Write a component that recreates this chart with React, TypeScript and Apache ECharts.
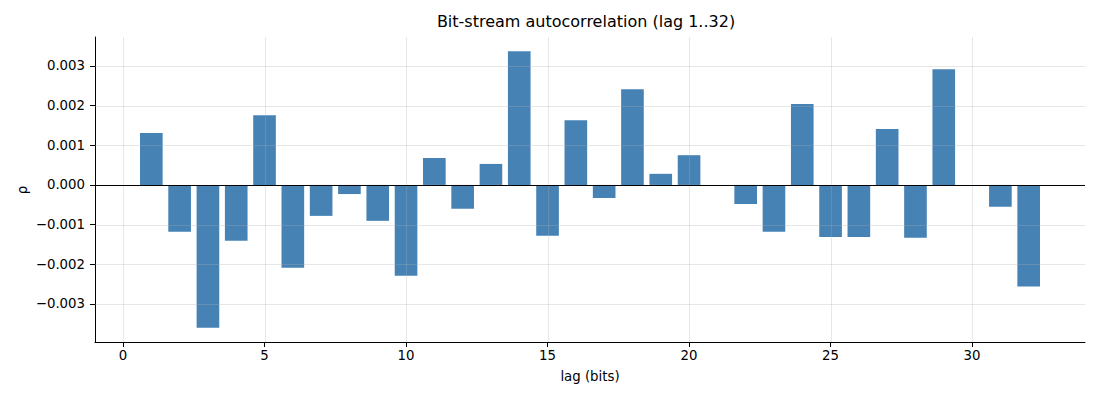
import React, { useEffect, useRef } from "react";
import * as echarts from "echarts";

const lags = [1,2,3,4,5,6,7,8,9,10,11,12,13,14,15,16,17,18,19,20,21,22,23,24,25,26,27,28,29,30,31,32];
const rho = [
  0.00131, -0.00118, -0.0036, -0.00141, 0.00176, -0.00209, -0.00078, -0.00023,
  -0.000905, -0.00229, 0.00068, -0.0006, 0.00053, 0.00337, -0.00128, 0.00163,
  -0.00033, 0.00241, 0.00028, 0.00075, 0.0, -0.00048, -0.00118, 0.00204,
  -0.00131, -0.00131, 0.00141, -0.00133, 0.00292, 0.0, -0.00055, -0.00256,
];
const xTicks = [0, 5, 10, 15, 20, 25, 30];
const yTicks = [-0.003, -0.002, -0.001, 0, 0.001, 0.002, 0.003];
const title = "Bit-stream autocorrelation (lag 1..32)";
const xName = "lag (bits)";
const yName = "ρ";

const FONT = "DejaVu Sans";

function fmtY(v: number): string {
  if (Math.abs(v) < 1e-12) return "0.000";
  const s = Math.abs(v).toFixed(3);
  return v < 0 ? "\u2212" + s : s;
}

export default function App() {
  const ref = useRef<HTMLDivElement>(null);
  useEffect(() => {
    if (!ref.current) return;
    const chart = echarts.init(ref.current, null, { renderer: "svg" });
    const gridColor = "rgba(176,176,176,0.3)";
    chart.setOption({
      animation: false,
      backgroundColor: "#ffffff",
      textStyle: { fontFamily: FONT },
      grid: { left: 95, right: 15, top: 37, bottom: 58 },
      xAxis: {
        type: "value",
        min: -0.99,
        max: 33.99,
        axisLine: { show: true, onZero: false, lineStyle: { color: "#000", width: 1 } },
        axisTick: { show: true, length: 5, lineStyle: { color: "#000", width: 1 }, customValues: xTicks },
        axisLabel: {
          customValues: xTicks,
          margin: 7,
          color: "#000",
          fontSize: 13.3,
          fontFamily: FONT,
          formatter: (v: number) => String(v),
        },
        splitLine: { show: false },
      },
      yAxis: {
        type: "value",
        min: -0.00396,
        max: 0.00373,
        axisLine: { show: true, onZero: false, lineStyle: { color: "#000", width: 1 } },
        axisTick: { show: true, length: 5, lineStyle: { color: "#000", width: 1 }, customValues: yTicks },
        axisLabel: {
          customValues: yTicks,
          margin: 10,
          color: "#000",
          fontSize: 13.3,
          fontFamily: FONT,
          formatter: (v: number) => fmtY(v),
        },
        splitLine: { show: false },
      },
      graphic: [
        {
          type: "text",
          x: 586,
          y: 13,
          style: {
            text: title,
            fill: "#000",
            font: `16px "${FONT}"`,
            textAlign: "center",
            textVerticalAlign: "top",
          },
        },
        {
          type: "text",
          x: 590,
          y: 370,
          style: {
            text: xName,
            fill: "#000",
            font: `13.3px "${FONT}"`,
            textAlign: "center",
            textVerticalAlign: "top",
          },
        },
        {
          type: "text",
          x: 22,
          y: 190,
          rotation: Math.PI / 2,
          style: {
            text: yName,
            fill: "#000",
            font: `13.3px "${FONT}"`,
            textAlign: "center",
            textVerticalAlign: "middle",
          },
        },
      ],
      series: [
        {
          type: "custom",
          z: 2,
          data: lags.map((l, i) => [l, rho[i]]),
          renderItem: (params: any, api: any) => {
            const lag = api.value(0);
            const val = api.value(1);
            const p0 = api.coord([lag - 0.4, 0]);
            const p1 = api.coord([lag + 0.4, val]);
            return {
              type: "rect",
              shape: {
                x: Math.min(p0[0], p1[0]),
                y: Math.min(p0[1], p1[1]),
                width: Math.abs(p1[0] - p0[0]),
                height: Math.abs(p1[1] - p0[1]),
              },
              style: { fill: "#4682b4" },
            };
          },
        },
        {
          type: "custom",
          z: 3,
          silent: true,
          data: yTicks.map((v) => [0, v]),
          renderItem: (params: any, api: any) => {
            const p = api.coord([0, api.value(1)]);
            const cs = params.coordSys;
            const y = Math.round(p[1]) + 0.5;
            return {
              type: "line",
              shape: { x1: cs.x, y1: y, x2: cs.x + cs.width, y2: y },
              style: { stroke: gridColor, lineWidth: 1 },
            };
          },
        },
        {
          type: "custom",
          z: 3,
          silent: true,
          data: xTicks.map((v) => [v, 0]),
          renderItem: (params: any, api: any) => {
            const p = api.coord([api.value(0), 0]);
            const cs = params.coordSys;
            const x = Math.round(p[0]) + 0.5;
            return {
              type: "line",
              shape: { x1: x, y1: cs.y, x2: x, y2: cs.y + cs.height },
              style: { stroke: gridColor, lineWidth: 1 },
            };
          },
        },
        {
          type: "custom",
          z: 4,
          silent: true,
          data: [[0, 0]],
          renderItem: (params: any, api: any) => {
            const p = api.coord([0, 0]);
            const cs = params.coordSys;
            const y = Math.round(p[1]) + 0.5;
            return {
              type: "line",
              shape: { x1: cs.x, y1: y, x2: cs.x + cs.width, y2: y },
              style: { stroke: "#000", lineWidth: 1 },
            };
          },
        },
      ],
    });
    return () => chart.dispose();
  }, []);
  return (
    <div
      ref={ref}
      style={{ position: "fixed", left: 0, top: 0, width: 1100, height: 400, background: "#fff" }}
    />
  );
}
